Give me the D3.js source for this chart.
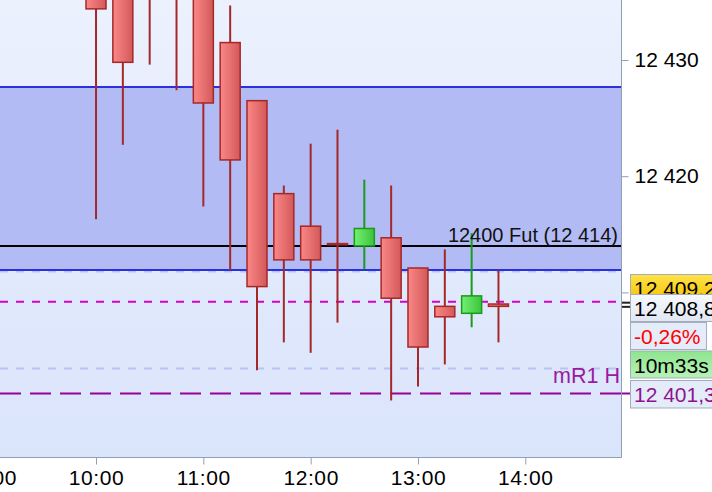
<!DOCTYPE html>
<html>
<head>
<meta charset="utf-8">
<script src="https://cdn.jsdelivr.net/npm/d3@7"></script>
<style>
body{margin:0;background:#fff;}
svg{font-family:"Liberation Sans",Arial,sans-serif;}
</style>
</head>
<body>
<script>
// 15 min candles
var times  = ["10:00","10:15","10:30","10:45","11:00","11:15","11:30","11:45","12:00","12:15","12:30","12:45","13:00","13:15","13:30","13:45"];
var opens  = [12437.5,12436.5,12441,12440,12438,12431.5,12426.5,12418.5,12415.7,12414.2,12414.0,12414.7,12412.1,12408.8,12408.2,12409.0];
var highs  = [12439,12437.5,12442,12441,12440,12434.7,12426.5,12419.2,12422.8,12424.0,12419.7,12419.2,12412.1,12413.7,12415.1,12411.9];
var lows   = [12416.3,12422.7,12429.6,12427.4,12417.4,12411.9,12403.3,12405.7,12404.8,12407.4,12412.0,12400.7,12401.9,12403.8,12407.0,12405.7];
var closes = [12434.4,12429.8,12437,12437.5,12426.3,12421.4,12410.5,12412.8,12412.8,12414.1,12415.5,12409.5,12405.3,12407.9,12409.7,12408.8];

var hourTicks = ["09:00","10:00","11:00","12:00","13:00","14:00"];
var priceTicks = [12410,12420,12430];
var hiddenTick = 12410; // sits under the price labels

var zoneTop = 12427.68, zoneBottom = 12411.93;
var futLevel = 12414, futLabel = "12400 Fut (12 414)";
var lightLevels = [12411.79, 12403.45];
var magentaLevel = 12409.2;
var mr1Level = 12401.3, mr1Label = "mR1 H";

var labelTexts = ["12 409,2","12 408,8","-0,26%","10m33s","12 401,3"];

var W = 712, H = 492, plotW = 621, plotH = 457;

var svg = d3.select("body").append("svg")
  .attr("width", W)
  .attr("height", H);

var parse = d3.timeParse("%H:%M");
var x = d3.scaleTime()
  .domain([parse("09:00"), parse("14:00")])
  .range([-11.3, 525.3]);
var y = d3.scaleLinear()
  .domain([12400, 12430])
  .range([408.6, 60]);

var defs = svg.append("defs");
function grad(id, c1, c2, vertical) {
  var gr = defs.append("linearGradient").attr("id", id)
    .attr("x1", 0).attr("y1", 0).attr("x2", vertical ? 0 : 1).attr("y2", vertical ? 1 : 0);
  gr.append("stop").attr("offset", "0%").attr("stop-color", c1);
  gr.append("stop").attr("offset", "100%").attr("stop-color", c2);
}
grad("bg", "#ecf1fe", "#dae4fb", true);
grad("bear", "#fb8787", "#d35959", false);
grad("bull", "#72f072", "#3cc33c", false);
grad("yel", "#ffe24a", "#f4c200", true);
grad("grn", "#8ee48e", "#b8f2b8", true);
grad("box", "#f7f9ff", "#dfe6f3", true);
defs.append("clipPath").attr("id", "clip")
  .append("rect").attr("width", plotW).attr("height", plotH);

svg.append("rect")
  .attr("width", plotW).attr("height", plotH)
  .attr("fill", "url(#bg)");

var g = svg.append("g").attr("clip-path", "url(#clip)");

// zone
g.append("rect")
  .attr("x", 0).attr("width", plotW)
  .attr("y", y(zoneTop)).attr("height", y(zoneBottom) - y(zoneTop))
  .attr("fill", "#b3bbf5");

function hline(level, color, width, dash) {
  g.append("line")
    .attr("x1", 0).attr("x2", plotW)
    .attr("y1", y(level)).attr("y2", y(level))
    .attr("stroke", color).attr("stroke-width", width)
    .attr("stroke-dasharray", dash || null);
}
lightLevels.forEach(function(l) { hline(l, "#b4c6f8", 2, "8,8"); });
hline(zoneTop, "#2a30de", 2);
hline(zoneBottom, "#2a30de", 2);
hline(futLevel, "#000", 2);
hline(magentaLevel, "#d000d0", 2, "8,8");
hline(mr1Level, "#98009a", 2, "21,9");

var data = times.map(function(t, i) {
  return {t: parse(t), o: opens[i], h: highs[i], l: lows[i], c: closes[i]};
});

var candle = g.selectAll(".candle")
  .data(data)
  .enter().append("g")
  .attr("class", "candle");

candle.append("line")
  .attr("x1", function(d) { return x(d.t); })
  .attr("x2", function(d) { return x(d.t); })
  .attr("y1", function(d) { return y(d.h); })
  .attr("y2", function(d) { return y(d.l); })
  .attr("stroke", function(d) { return d.c >= d.o ? "#1b9a1b" : "#a52828"; })
  .attr("stroke-width", 2);

candle.append("rect")
  .attr("x", function(d) { return x(d.t) - 10; })
  .attr("width", 20)
  .attr("y", function(d) { return y(Math.max(d.o, d.c)); })
  .attr("height", function(d) { return Math.max(1, Math.abs(y(d.o) - y(d.c))); })
  .attr("fill", function(d) { return d.c >= d.o ? "url(#bull)" : "url(#bear)"; })
  .attr("stroke", function(d) { return d.c >= d.o ? "#1b9a1b" : "#a52828"; })
  .attr("stroke-width", 1.5);

g.append("text")
  .attr("x", 618).attr("y", y(futLevel) - 4)
  .attr("text-anchor", "end")
  .style("font-size", "20px")
  .attr("fill", "#111")
  .text(futLabel);

g.append("text")
  .attr("x", 620).attr("y", y(mr1Level) - 10)
  .attr("text-anchor", "end")
  .style("font-size", "21.5px")
  .attr("fill", "#9a1aa0")
  .text(mr1Label);

// plot border
svg.append("path")
  .attr("d", "M" + (plotW + 0.5) + ",0V" + (plotH + 0.5) + "H0")
  .attr("fill", "none")
  .attr("stroke", "#8ea0b4");

// axes
var xAxis = svg.append("g")
  .attr("transform", "translate(0," + (plotH + 0.5) + ")")
  .call(d3.axisBottom(x)
    .tickValues(hourTicks.map(parse))
    .tickFormat(d3.timeFormat("%H:%M"))
    .tickSize(7).tickPadding(6));
xAxis.select(".domain").remove();
xAxis.selectAll("line").attr("stroke", "#8ea0b4");
xAxis.selectAll("text").style("font-size", "21px").style("letter-spacing", "0.6px").attr("fill", "#000");

var yAxis = svg.append("g")
  .attr("transform", "translate(" + (plotW + 0.5) + ",0)")
  .call(d3.axisRight(y)
    .tickValues(priceTicks)
    .tickFormat(function(d) { return d === hiddenTick ? "" : d3.format(",")(d).replace(",", " "); })
    .tickSize(7).tickPadding(6));
yAxis.select(".domain").remove();
yAxis.selectAll("line").attr("stroke", "#8ea0b4");
yAxis.selectAll("text").style("font-size", "21px").attr("fill", "#000");

// small connectors
[[y(magentaLevel) + 1, "#222"], [y(closes[closes.length - 1]) + 0.5, "#222"], [y(mr1Level), "#98009a"]].forEach(function(c) {
  svg.append("line")
    .attr("x1", plotW + 1).attr("x2", 630)
    .attr("y1", c[0]).attr("y2", c[0])
    .attr("stroke", c[1]).attr("stroke-width", 2);
});

// price labels on the right
var boxes = [
  {y: 274.5, h: 27, fill: "url(#yel)", color: "#000", w: 100},
  {y: 294.5, h: 27, fill: "url(#box)", color: "#000", w: 100},
  {y: 322.5, h: 27, fill: "#e4ebf9", color: "#f00", w: 76},
  {y: 351, h: 27, fill: "url(#grn)", color: "#000", w: 100},
  {y: 380.5, h: 27.5, fill: "#e4ebf9", color: "#8e148f", w: 100}
];
boxes.forEach(function(b, i) {
  svg.append("rect")
    .attr("x", 630.5).attr("y", b.y)
    .attr("width", b.w).attr("height", b.h)
    .attr("fill", b.fill)
    .attr("stroke", "#a3adbb");
  svg.append("text")
    .attr("x", 634).attr("y", b.y + 21.5)
    .style("font-size", "21px")
    .attr("fill", b.color)
    .text(labelTexts[i]);
});
</script>
</body>
</html>
